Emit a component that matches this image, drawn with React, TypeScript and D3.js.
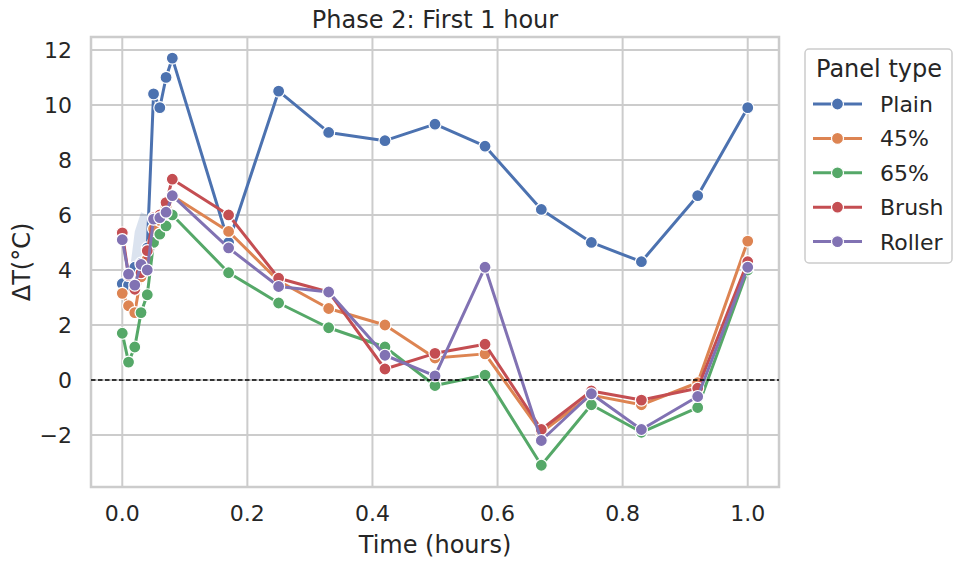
import React from "react";
import * as d3 from "d3";

const times = [0, 0.01, 0.02, 0.03, 0.04, 0.05, 0.06, 0.07, 0.08, 0.17, 0.25, 0.33, 0.42, 0.5, 0.58, 0.67, 0.75, 0.83, 0.92, 1.0];
const plain = [3.5, 3.45, 4.1, 4.25, 4.8, 10.4, 9.9, 11.0, 11.7, 5.0, 10.5, 9.0, 8.7, 9.3, 8.5, 6.2, 5.0, 4.3, 6.7, 9.9];
const p45 = [3.15, 2.7, 2.45, 3.75, 4.4, 5.5, 5.8, 6.3, 6.7, 5.4, 3.6, 2.6, 2.0, 0.8, 0.95, -1.9, -0.55, -0.9, -0.1, 5.05];
const p65 = [1.7, 0.65, 1.2, 2.45, 3.1, 5.0, 5.3, 5.6, 6.0, 3.9, 2.8, 1.9, 1.2, -0.2, 0.18, -3.1, -0.9, -1.9, -1.0, 4.0];
const brush = [5.35, 3.8, 3.3, 3.9, 4.7, 5.9, 6.0, 6.45, 7.3, 6.0, 3.7, 3.2, 0.4, 0.97, 1.3, -1.8, -0.4, -0.73, -0.3, 4.3];
const roller = [5.1, 3.85, 3.45, 4.2, 4.0, 5.85, 5.9, 6.1, 6.7, 4.8, 3.4, 3.2, 0.9, 0.15, 4.1, -2.2, -0.5, -1.8, -0.6, 4.1];

// confidence band of Plain series (where repeated readings exist)
const plainBandX = [0.01, 0.02, 0.03, 0.04, 0.05];
const plainBandLow = [3.3, 3.9, 4.0, 4.6, 10.3];
const plainBandHigh = [3.6, 5.4, 6.1, 6.0, 10.5];

const seriesNames = ["Plain", "45%", "65%", "Brush", "Roller"];
const seriesValues = [plain, p45, p65, brush, roller];
const colors = ["#4C72B0", "#DD8452", "#55A868", "#C44E52", "#8172B3"];

const xTicks = [0, 0.2, 0.4, 0.6, 0.8, 1.0];
const yTicks = [-2, 0, 2, 4, 6, 8, 10, 12];

const W = 964;
const H = 566;
const L = 91, R = 779, T = 37, B = 487;
const FONT = "DejaVu Sans, sans-serif";
const TXT = "#262626";

export default function App() {
  const x = d3.scaleLinear().domain([-0.05, 1.05]).range([L, R]);
  const y = d3.scaleLinear().domain([-3.89, 12.47]).range([B, T]);
  const line = d3
    .line<[number, number]>()
    .x((d) => x(d[0]))
    .y((d) => y(d[1]));
  const band = d3
    .area<number>()
    .x((_, i) => x(plainBandX[i]))
    .y0((_, i) => y(plainBandLow[i]))
    .y1((_, i) => y(plainBandHigh[i]));

  return (
    <svg
      width={W}
      height={H}
      style={{ position: "absolute", left: 0, top: 0, background: "#fff" }}
      fontFamily={FONT}
    >
      <defs>
        <clipPath id="plotclip">
          <rect x={L} y={T} width={R - L} height={B - T} />
        </clipPath>
      </defs>
      {/* grid */}
      {xTicks.map((t) => (
        <line key={"gx" + t} x1={x(t)} x2={x(t)} y1={T} y2={B} stroke="#cccccc" strokeWidth={2} />
      ))}
      {yTicks.map((t) => (
        <line key={"gy" + t} x1={L} x2={R} y1={y(t)} y2={y(t)} stroke="#cccccc" strokeWidth={2} />
      ))}
      {/* spines */}
      <rect x={L} y={T} width={R - L} height={B - T} fill="none" stroke="#cccccc" strokeWidth={2.5} />

      <g clipPath="url(#plotclip)">
        <path d={band(plainBandX) || ""} fill={colors[0]} fillOpacity={0.2} stroke="none" />
        {seriesValues.map((vals, si) => {
          const pts = times.map((t, i) => [t, vals[i]] as [number, number]);
          return (
            <g key={seriesNames[si]}>
              <path d={line(pts) || ""} fill="none" stroke={colors[si]} strokeWidth={3} strokeLinejoin="round" />
              {pts.map((p, i) => (
                <circle key={i} cx={x(p[0])} cy={y(p[1])} r={6} fill={colors[si]} stroke="#fff" strokeWidth={1.2} />
              ))}
            </g>
          );
        })}
        <line x1={L} x2={R} y1={y(0)} y2={y(0)} stroke="#000" strokeWidth={1.3} strokeDasharray="4.5,2.5" />
      </g>

      {/* tick labels */}
      {xTicks.map((t) => (
        <text key={"tx" + t} x={x(t)} y={521} textAnchor="middle" fontSize={22} fill={TXT}>
          {t.toFixed(1)}
        </text>
      ))}
      {yTicks.map((t) => (
        <text key={"ty" + t} x={72} y={y(t)} dy="0.36em" textAnchor="end" fontSize={22} fill={TXT}>
          {t < 0 ? "\u2212" + Math.abs(t) : String(t)}
        </text>
      ))}

      {/* titles */}
      <text x={(L + R) / 2} y={28} textAnchor="middle" fontSize={24} fill={TXT}>
        Phase 2: First 1 hour
      </text>
      <text x={(L + R) / 2} y={553} textAnchor="middle" fontSize={24} fill={TXT}>
        Time (hours)
      </text>
      <text
        transform={`translate(30, ${(T + B) / 2}) rotate(-90)`}
        textAnchor="middle"
        fontSize={24}
        fill={TXT}
      >
        ΔT(°C)
      </text>

      {/* legend */}
      <rect x={805} y={49} width={147} height={214} rx={4} fill="#fff" fillOpacity={0.8} stroke="#cccccc" strokeWidth={1.5} />
      <text x={879} y={77} textAnchor="middle" fontSize={24} fill={TXT}>
        Panel type
      </text>
      {seriesNames.map((n, i) => {
        const cy = 104 + i * 34.4;
        return (
          <g key={"lg" + n}>
            <line x1={813} x2={862} y1={cy} y2={cy} stroke={colors[i]} strokeWidth={3} />
            <circle cx={837.5} cy={cy} r={6} fill={colors[i]} stroke="#fff" strokeWidth={1.2} />
            <text x={880} y={cy} dy="0.36em" fontSize={22} fill={TXT}>
              {n}
            </text>
          </g>
        );
      })}
    </svg>
  );
}
